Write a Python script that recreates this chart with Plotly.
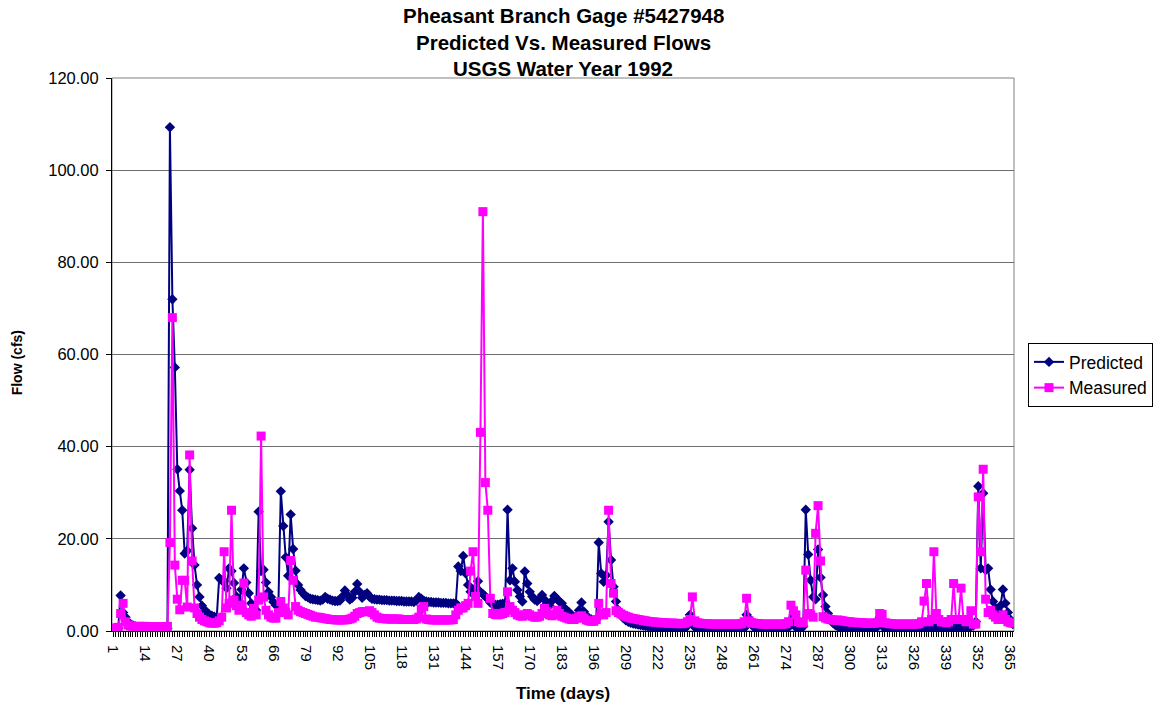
import plotly.graph_objects as go

# ---- data ----
days = list(range(1, 367))

predicted = [
    0.5, 0.5, 0.6, 7.7, 4.0, 3.0, 2.0, 1.5, 1.2, 1.0,
    0.8, 0.8, 0.7, 0.7, 0.7, 0.7, 0.6, 0.6, 0.6, 0.6,
    0.6, 0.6, 0.6, 109.3, 72.0, 57.2, 35.1, 30.4, 26.2, 16.8,
    17.4, 35.0, 22.3, 14.3, 10.0, 7.4, 5.5, 4.6, 4.0, 3.6,
    3.3, 3.1, 3.0, 11.5, 11.0, 10.8, 9.3, 13.6, 13.0, 10.4,
    7.5, 6.5, 9.0, 13.6, 10.5, 8.2, 6.0, 5.0, 4.5, 25.9,
    13.0, 13.3, 10.5, 8.5, 7.4, 6.3, 5.6, 5.2, 30.3, 22.8,
    16.0, 12.0, 25.3, 17.8, 13.1, 10.0, 8.9, 8.2, 7.6, 7.3,
    7.0, 6.9, 6.8, 6.7, 6.6, 6.8, 7.4, 7.0, 6.8, 6.6,
    6.5, 6.5, 6.6, 7.5, 8.8, 7.8, 6.8, 7.2, 8.5, 10.2,
    8.5, 7.2, 7.8, 8.2, 7.4, 7.0, 6.9, 6.8, 6.8, 6.7,
    6.7, 6.7, 6.6, 6.6, 6.6, 6.5, 6.5, 6.5, 6.4, 6.4,
    6.4, 6.4, 6.3, 6.6, 7.4, 7.0, 6.6, 6.4, 6.3, 6.3,
    6.2, 6.2, 6.2, 6.1, 6.1, 6.1, 6.0, 6.0, 6.0, 6.0,
    14.0, 13.0, 16.3, 12.5, 10.0, 8.5, 9.0, 8.0, 10.8, 8.5,
    8.0, 7.5, 7.0, 6.2, 5.8, 5.7, 5.7, 5.8, 5.9, 6.0,
    26.3, 11.0, 13.6, 10.7, 8.9, 7.5, 6.4, 12.9, 10.3, 8.5,
    7.5, 6.8, 6.5, 7.0, 7.8, 6.8, 6.0, 5.5, 6.5, 7.6,
    7.0, 6.4, 6.0, 5.0, 4.5, 4.0, 3.5, 3.0, 3.2, 4.5,
    6.2, 4.2, 3.3, 2.8, 2.5, 2.3, 2.5, 19.2, 12.5, 10.7,
    12.1, 23.7, 15.4, 9.6, 6.4, 4.5, 3.5, 2.8, 2.3, 2.0,
    1.8, 1.6, 1.5, 1.4, 1.3, 1.2, 1.1, 1.0, 1.0, 0.9,
    0.9, 0.8, 0.8, 0.7, 0.7, 0.6, 0.6, 0.6, 0.5, 0.5,
    0.5, 0.5, 0.6, 1.2, 3.5, 1.5, 0.8, 0.6, 0.5, 0.5,
    0.5, 0.4, 0.4, 0.4, 0.4, 0.4, 0.4, 0.4, 0.4, 0.4,
    0.4, 0.4, 0.4, 0.4, 0.4, 0.4, 0.6, 3.5, 2.7, 1.5,
    0.8, 0.6, 0.5, 0.5, 0.4, 0.4, 0.4, 0.4, 0.4, 0.4,
    0.4, 0.4, 0.4, 0.5, 0.8, 2.5, 1.5, 0.8, 0.6, 0.5,
    1.0, 26.3, 16.6, 11.0, 7.4, 6.9, 17.7, 11.6, 7.8, 5.3,
    3.8, 2.5, 1.8, 1.3, 1.0, 0.8, 0.7, 0.6, 0.6, 0.5,
    0.5, 0.5, 0.5, 0.5, 0.4, 0.4, 0.4, 0.4, 0.4, 0.4,
    1.0, 3.0, 1.2, 0.6, 0.5, 0.4, 0.4, 0.4, 0.4, 0.4,
    0.4, 0.4, 0.4, 0.4, 0.4, 0.4, 0.4, 0.4, 0.4, 0.5,
    0.6, 0.5, 0.5, 0.8, 0.6, 0.5, 0.5, 0.5, 0.5, 0.5,
    0.5, 0.6, 0.6, 0.6, 0.7, 0.6, 0.6, 0.7, 1.0, 1.2,
    2.0, 31.4, 13.6, 29.9, 13.2, 13.6, 9.0, 6.4, 5.0, 4.5,
    5.5, 9.0, 6.0, 4.0, 2.5, 1.5,
]

measured = [
    0.6, 0.6, 0.8, 3.8, 6.0, 2.0, 1.3, 1.1, 1.0, 1.0,
    1.0, 1.0, 1.0, 1.0, 0.9, 0.9, 0.9, 0.9, 0.9, 0.9,
    0.9, 0.9, 1.0, 19.2, 68.0, 14.3, 6.9, 4.6, 11.0, 11.0,
    5.2, 38.2, 15.2, 5.0, 3.8, 3.0, 2.5, 2.2, 2.0, 1.8,
    1.7, 1.7, 1.8, 2.2, 3.0, 17.2, 5.0, 6.0, 26.2, 6.7,
    5.5, 4.5, 5.6, 10.4, 4.0, 3.5, 3.2, 4.9, 3.5, 6.7,
    42.3, 7.4, 4.5, 3.5, 3.0, 2.8, 2.8, 4.0, 6.4, 5.0,
    4.0, 3.5, 15.3, 11.0, 5.3, 4.5, 4.2, 4.0, 3.8, 3.6,
    3.4, 3.2, 3.0, 3.0, 2.9, 2.8, 2.7, 2.6, 2.5, 2.5,
    2.4, 2.4, 2.4, 2.4, 2.4, 2.5, 2.6, 2.8, 3.2, 3.8,
    4.0, 4.2, 4.2, 4.2, 4.4, 4.0, 3.5, 3.0, 2.8, 2.7,
    2.7, 2.6, 2.6, 2.6, 2.6, 2.6, 2.6, 2.5, 2.5, 2.5,
    2.5, 2.5, 2.5, 2.6, 3.0, 4.8, 5.3, 2.6, 2.5, 2.4,
    2.4, 2.4, 2.4, 2.4, 2.4, 2.4, 2.4, 2.4, 2.5, 3.5,
    4.5, 5.0, 5.0, 5.5, 6.0, 13.0, 17.2, 7.5, 6.0, 43.1,
    91.0, 32.2, 26.2, 7.1, 3.8, 3.6, 3.5, 3.6, 3.8, 4.0,
    8.5, 5.3, 4.5, 4.0, 3.5, 3.3, 3.2, 3.5, 3.8, 3.5,
    3.2, 3.0, 3.0, 3.2, 3.8, 4.9, 4.2, 3.5, 3.3, 3.5,
    4.5, 3.8, 3.2, 3.0, 2.8, 2.6, 2.5, 2.5, 2.8, 3.1,
    3.3, 2.8, 2.4, 2.2, 2.1, 2.1, 2.5, 6.0, 3.8, 3.5,
    4.0, 26.2, 10.3, 8.2, 4.4, 4.0, 3.7, 3.4, 3.2, 3.0,
    2.8, 2.7, 2.6, 2.5, 2.4, 2.3, 2.2, 2.1, 2.0, 2.0,
    1.9, 1.9, 1.8, 1.8, 1.8, 1.7, 1.7, 1.7, 1.7, 1.6,
    1.6, 1.6, 1.7, 2.0, 2.5, 7.4, 2.2, 1.8, 1.7, 1.6,
    1.6, 1.6, 1.5, 1.5, 1.5, 1.5, 1.5, 1.5, 1.5, 1.5,
    1.5, 1.5, 1.5, 1.5, 1.5, 1.6, 2.0, 7.1, 2.2, 1.8,
    1.7, 1.6, 1.6, 1.5, 1.5, 1.5, 1.5, 1.5, 1.5, 1.5,
    1.5, 1.5, 1.5, 1.6, 2.0, 5.6, 4.4, 3.5, 2.0, 1.8,
    1.8, 13.2, 3.8, 3.5, 3.0, 21.2, 27.2, 15.2, 3.1, 2.8,
    2.6, 2.5, 2.4, 2.3, 2.4, 2.3, 2.2, 2.1, 2.0, 2.0,
    1.9, 1.9, 1.8, 1.8, 1.8, 1.7, 1.7, 1.7, 1.7, 1.7,
    1.8, 3.8, 3.6, 1.8, 1.7, 1.6, 1.6, 1.5, 1.5, 1.5,
    1.5, 1.5, 1.5, 1.5, 1.5, 1.5, 1.5, 1.6, 2.0, 6.5,
    10.3, 2.0, 2.5, 17.2, 3.8, 2.5, 2.0, 2.0, 1.8, 2.0,
    2.5, 10.3, 2.5, 2.5, 9.3, 2.5, 2.0, 2.5, 4.4, 1.5,
    1.5, 29.1, 17.2, 35.1, 6.9, 4.0, 4.5, 3.5, 3.0, 2.5,
    2.5, 3.5, 2.5, 2.0, 1.8, 1.7,
]

tick_labels = [str(d) if (d - 1) % 13 == 0 else "" for d in days]
y_ticks = [0, 20, 40, 60, 80, 100, 120]
title_lines = ["Pheasant Branch Gage #5427948", "Predicted Vs. Measured Flows", "USGS Water Year 1992"]

FONT = "Arial, Liberation Sans, Helvetica, sans-serif"
NAVY = "#000080"
MAGENTA = "#FF00FF"

fig = go.Figure()
fig.add_trace(go.Scatter(
    x=days, y=predicted, name="Predicted", mode="lines+markers",
    line=dict(color=NAVY, width=2),
    marker=dict(symbol="diamond", size=8, color=NAVY),
))
fig.add_trace(go.Scatter(
    x=days, y=measured, name="Measured", mode="lines+markers",
    line=dict(color=MAGENTA, width=2),
    marker=dict(symbol="square", size=9, color=MAGENTA),
))

# plot-area frame (grey) behind axes
fig.add_shape(type="rect", xref="paper", yref="paper", x0=0, x1=1, y0=0, y1=1,
              line=dict(color="#808080", width=1), layer="below")

title_y_px = [15, 42, 68]
for line, ypx in zip(title_lines, title_y_px):
    fig.add_annotation(text=f"<b>{line}</b>", xref="paper", yref="paper",
                       x=0.5, y=(631 - ypx) / 553, xanchor="center", yanchor="middle",
                       showarrow=False, font=dict(family=FONT, size=20.5, color="black"))

fig.add_annotation(text="<b>Flow (cfs)</b>", xref="paper", yref="paper",
                   x=(17 - 111.7) / 902.3, y=(631 - 363) / 553, xanchor="center", yanchor="middle",
                   textangle=-90, showarrow=False, font=dict(family=FONT, size=14, color="black"))
fig.add_annotation(text="<b>Time (days)</b>", xref="paper", yref="paper",
                   x=0.5, y=(631 - 693) / 553, xanchor="center", yanchor="middle",
                   showarrow=False, font=dict(family=FONT, size=17, color="black"))

fig.update_layout(
    width=1157, height=710,
    margin=dict(l=112, r=143, t=78, b=79, autoexpand=False),
    paper_bgcolor="white", plot_bgcolor="white",
    font=dict(family=FONT, color="black"),
    showlegend=True,
    legend=dict(x=(1028 - 111.7) / 902.3, y=(631 - 343) / 553, xanchor="left", yanchor="top",
                bordercolor="black", borderwidth=1, bgcolor="white",
                font=dict(family=FONT, size=17.5, color="black"),
                tracegroupgap=0),
    xaxis=dict(
        range=[0.5, 366.5], tickmode="array", tickvals=days, ticktext=tick_labels,
        tickangle=90, ticks="outside", ticklen=5, tickwidth=1, tickcolor="black",
        showline=True, linecolor="black", linewidth=1, showgrid=False, zeroline=False,
        ticklabelstandoff=5,
        tickfont=dict(family=FONT, size=15, color="black"),
    ),
    yaxis=dict(
        range=[0, 120], tickmode="array", tickvals=y_ticks, tickformat=".2f",
        ticks="outside", ticklen=5, tickcolor="black",
        showline=True, linecolor="black", linewidth=1,
        showgrid=True, gridcolor="#6e6e6e", gridwidth=1, zeroline=False,
        ticklabelstandoff=4,
        tickfont=dict(family=FONT, size=16.5, color="black"),
    ),
)

fig.write_html("out.html", config={"displayModeBar": False},
               post_script="document.body.style.margin='0';")
